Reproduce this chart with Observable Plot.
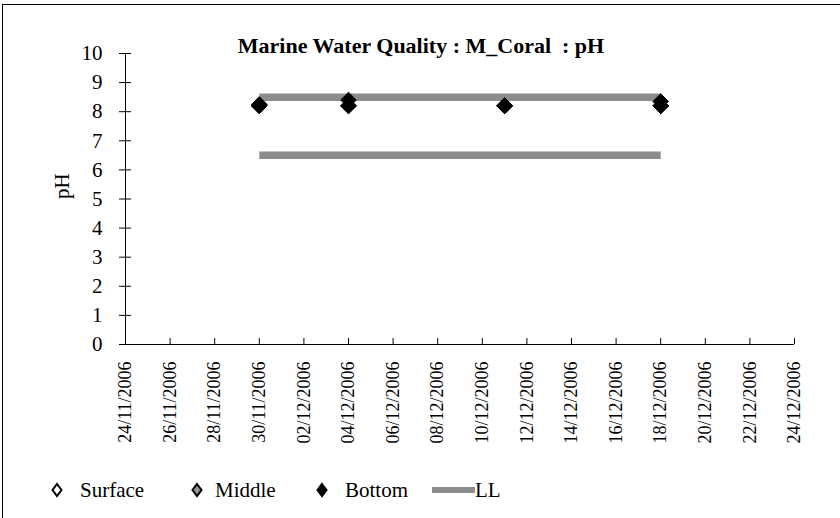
<!DOCTYPE html>
<html>
<head>
<meta charset="utf-8">
<script src="https://cdn.jsdelivr.net/npm/d3@7"></script>
<script src="https://cdn.jsdelivr.net/npm/@observablehq/plot@0.6"></script>
<style>
  body { margin: 0; background: #fff; }
  #wrap { position: relative; width: 840px; height: 518px; overflow: hidden; font-family: "Liberation Serif", "Times New Roman", Times, "DejaVu Serif", serif; }
  #border { position: absolute; left: 2px; top: 4px; width: 900px; height: 600px; border: 1.5px solid #000; box-sizing: border-box; }
  #title { position: absolute; left: 0; width: 842px; top: 33px; text-align: center; font-weight: bold; font-size: 22px; white-space: pre; line-height: 26px; }
  #legend { position: absolute; left: 0; top: 477px; width: 840px; height: 26px; font-size: 21px; line-height: 26px; }
  #legend > * { position: absolute; top: 0; }
  #legend svg { display: block; }
</style>
</head>
<body>
<div id="wrap">
  <div id="border"></div>
  <div id="chart"></div>
  <div id="title">Marine Water Quality : M_Coral  : pH</div>
  <div id="legend"></div>
</div>
<script>
const parseDate = d3.utcParse("%d/%m/%Y");
const fmtDate = d3.utcFormat("%d/%m/%Y");

const sampleDates = ["30/11/2006", "04/12/2006", "11/12/2006", "18/12/2006"];
const surfaceValues = [8.2, 8.2, 8.2, 8.2];
const middleValues = [8.2, 8.2, 8.2, 8.2];
const bottomValues = [8.2, 8.2, 8.2, 8.2];
const bottomValues2 = [8.25, 8.4, 8.2, 8.35];
const limitDates = ["30/11/2006", "18/12/2006"];
const upperLimit = [8.5, 8.5];
const lowerLimit = [6.5, 6.5];
const xTickLabels = ["24/11/2006", "26/11/2006", "28/11/2006", "30/11/2006", "02/12/2006", "04/12/2006",
  "06/12/2006", "08/12/2006", "10/12/2006", "12/12/2006", "14/12/2006", "16/12/2006", "18/12/2006",
  "20/12/2006", "22/12/2006", "24/12/2006"];
const yTickValues = [0, 1, 2, 3, 4, 5, 6, 7, 8, 9, 10];

const serif = "'Liberation Serif', 'Times New Roman', Times, 'DejaVu Serif', serif";
const xTicks = xTickLabels.map(parseDate);
const series = [
  {name: "Surface", values: surfaceValues, fill: "#ffffff"},
  {name: "Middle", values: middleValues, fill: "#969696"},
  {name: "Bottom", values: bottomValues, fill: "#000000"},
  {name: "Bottom", values: bottomValues2, fill: "#000000"}
];
const points = series.flatMap(s => sampleDates.map((d, i) => ({series: s.name, fill: s.fill, date: parseDate(d), value: s.values[i]})));
const limits = [
  ...limitDates.map((d, i) => ({line: "UL", date: parseDate(d), value: upperLimit[i]})),
  ...limitDates.map((d, i) => ({line: "LL", date: parseDate(d), value: lowerLimit[i]}))
];
const lineColor = "#8c8c8c";

const chart = Plot.plot({
  width: 840,
  height: 518,
  marginLeft: 125,
  marginRight: 46,
  marginTop: 53,
  marginBottom: 174,
  style: {fontFamily: serif, fontSize: "21px", color: "#000", background: "transparent", overflow: "visible"},
  x: {type: "utc", domain: [xTicks[0], xTicks[xTicks.length - 1]]},
  y: {domain: [0, 10]},
  marks: [
    Plot.axisY({ticks: yTickValues, tickSize: 6, tickPadding: 17, label: null, fontSize: 21}),
    Plot.axisY({ticks: yTickValues, tickSize: -6, tickFormat: () => "", label: null}),
    Plot.axisX({ticks: xTicks, tickSize: -6, tickFormat: () => "", label: null}),
    Plot.axisX({ticks: xTicks, tickSize: 0, tickPadding: 17, tickRotate: -90, tickFormat: fmtDate, label: null, fontSize: 18}),
    Plot.ruleY([0], {stroke: "#000"}),
    Plot.ruleX([xTicks[0]], {stroke: "#000"}),
    Plot.line(limits, {x: "date", y: "value", z: "line", stroke: lineColor, strokeWidth: 7.5, strokeLinecap: "butt"}),
    Plot.dot(points, {x: "date", y: "value", fill: "fill", stroke: "#000", strokeWidth: 1, symbol: "diamond2", r: 7}),
    Plot.text(["pH"], {frameAnchor: "left", dx: -63, dy: 0, rotate: -90, fontSize: 21, text: d => d})
  ]
});
document.getElementById("chart").appendChild(chart);

// legend
const legend = document.getElementById("legend");
const legendItems = [
  {label: "Surface", sym: 57, text: 80, kind: "dot", fill: "#ffffff"},
  {label: "Middle", sym: 197, text: 215, kind: "dot", fill: "#969696"},
  {label: "Bottom", sym: 322, text: 345, kind: "dot", fill: "#000000"},
  {label: "LL", sym: 432, text: 475, kind: "line"}
];
for (const it of legendItems) {
  let svg;
  if (it.kind === "dot") {
    svg = `<svg width="16" height="26" style="left:${it.sym - 8}px"><path d="M8,7L12.5,13L8,19L3.5,13Z" fill="${it.fill}" stroke="#000" stroke-width="2"/></svg>`;
  } else {
    svg = `<svg width="${it.text - it.sym}" height="26" style="left:${it.sym}px"><line x1="0" x2="${it.text - it.sym}" y1="13" y2="13" stroke="${lineColor}" stroke-width="6"/></svg>`;
  }
  legend.insertAdjacentHTML("beforeend", svg + `<span style="left:${it.text}px">${it.label}</span>`);
}
</script>
</body>
</html>
